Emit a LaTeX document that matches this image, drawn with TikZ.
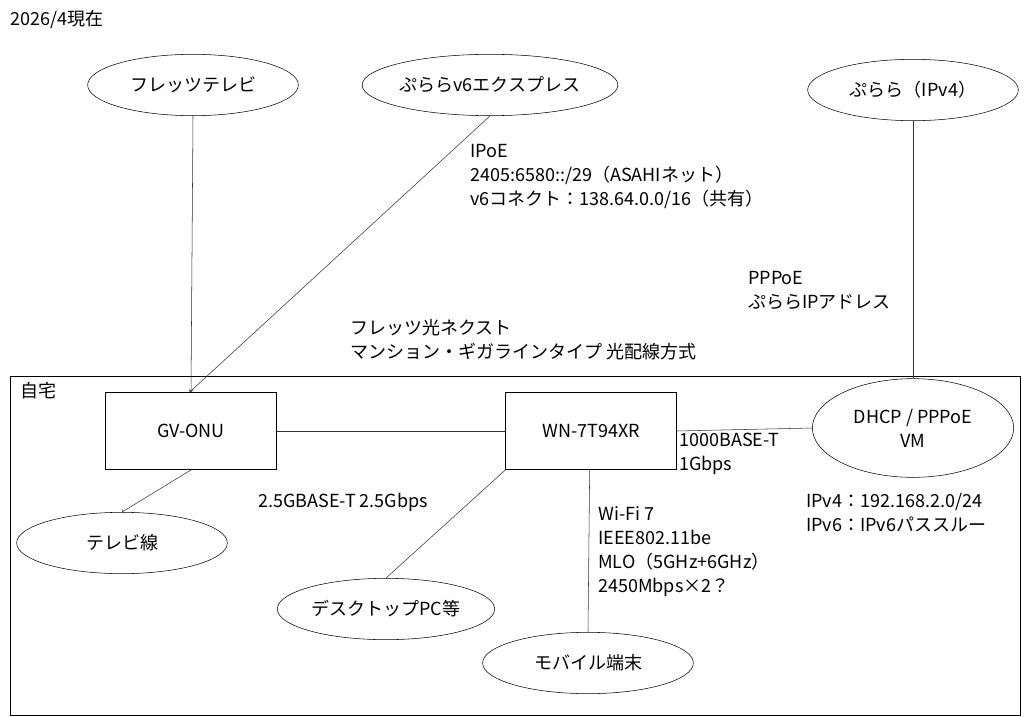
\documentclass[tikz,border=0pt]{standalone}
\usepackage{fontspec}
\setmainfont{Noto Sans CJK JP}
\usetikzlibrary{shapes}

\begin{document}
\begin{tikzpicture}[x=0.75pt,y=-0.75pt,font=\fontsize{13.5}{18}\selectfont,
  ell/.style={draw=black, shape=ellipse, minimum width=158pt, minimum height=46pt, inner sep=0pt},
  box/.style={draw=black, minimum width=128pt, minimum height=58pt},
  txt/.style={anchor=west, inner sep=0pt},
  link/.style={draw=black!80, thin},
  arr/.style={link, ->}]
\useasboundingbox (0,0) rectangle (1024,717);
\node[txt] (date) at (10,20) {2026/4現在};
\node[ell] (flettv) at (193,85) {フレッツテレビ};
\node[ell] (v6) at (490,85) {ぷららv6エクスプレス};
\node[ell] (ipv4) at (913,90) {ぷらら（IPv4）};
\draw (10,376) rectangle (1020,715);
\node[txt] (home) at (20,391) {自宅};
\node[box] (onu) at (191,431) {GV-ONU};
\node[box] (wn) at (591,431) {WN-7T94XR};
\node[ell, minimum width=151pt, minimum height=74pt, align=center] (vm) at (913,428) {DHCP / PPPoE\\VM};
\node[ell] (tvline) at (122,543) {テレビ線};
\node[ell, minimum width=163pt] (pc) at (386,609) {デスクトップPC等};
\node[ell] (mobile) at (588,663) {モバイル端末};
% connections
\draw[arr] (flettv.south) -- (onu.north);
\draw[arr] (v6.south) -- ([xshift=-1pt]onu.north);
\draw[arr] (onu.south) -- (tvline.north);
\draw[link] (onu.east) -- (wn.west);
\draw[link] (wn.south west) -- (pc.north);
\draw[link] ([xshift=-1pt]wn.south) -- (mobile.north);
\draw[link] (wn.east) -- (vm.west);
\draw[link] (ipv4.south) -- (vm.north);
% labels
\node[txt, align=left] (ipoe) at (470,177) {IPoE\\2405:6580::/29（ASAHIネット）\\v6コネクト：138.64.0.0/16（共有）};
\node[txt, align=left] (pppoe) at (748,290) {PPPoE\\ぷららIPアドレス};
\node[txt, align=left] (next) at (350,340) {フレッツ光ネクスト\\マンション・ギガラインタイプ 光配線方式};
\node[txt] (lan) at (258,502) {2.5GBASE-T 2.5Gbps};
\node[txt, align=left] (wan) at (679,454) {1000BASE-T\\1Gbps};
\node[txt, align=left] (wifi) at (598,552) {Wi-Fi 7\\IEEE802.11be\\MLO（5GHz+6GHz）\\2450Mbps×2？};
\node[txt, align=left] (addr) at (806,513) {IPv4：192.168.2.0/24\\IPv6：IPv6パススルー};
\end{tikzpicture}
\end{document}
